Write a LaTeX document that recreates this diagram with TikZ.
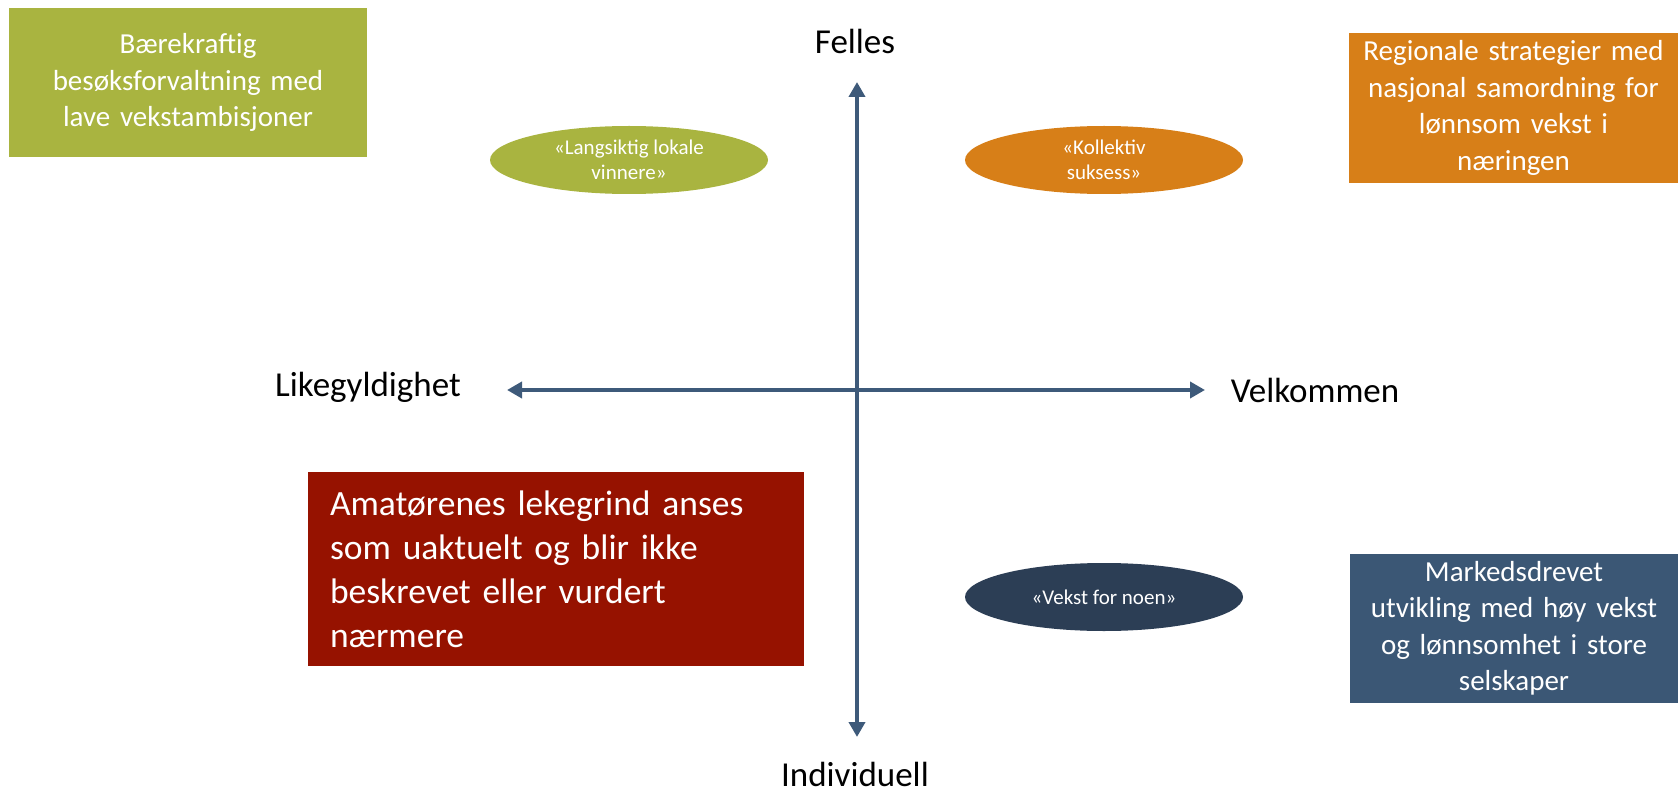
\documentclass[tikz,border=0pt]{standalone}
\usepackage{fontspec}
\setmainfont{Carlito}
\usetikzlibrary{arrows.meta,shapes.geometric}
\definecolor{olivegreen}{RGB}{169,180,64}
\definecolor{amber}{RGB}{215,127,24}
\definecolor{darkred}{RGB}{150,18,0}
\definecolor{navy}{RGB}{44,62,85}
\definecolor{steel}{RGB}{59,87,117}
\definecolor{axiscol}{RGB}{62,90,122}
\tikzset{
  axislabel/.style={font=\fontsize{35}{42}\selectfont, text=black, inner sep=0pt},
  cornerbox/.style={rectangle, fill=#1, text=white, inner sep=0pt, align=center,
    font=\fontsize{29}{36.5}\selectfont},
  oval/.style={ellipse, fill=#1, text=white, inner sep=0pt, align=center,
    minimum width=278pt, minimum height=68pt, font=\fontsize{21}{25}\selectfont},
  axisline/.style={draw=axiscol, line width=4pt,
    {Triangle[width=16pt,length=15pt]}-{Triangle[width=16pt,length=15pt]}}
}
\begin{document}
\begin{tikzpicture}[x=1pt,y=-1pt]
  \useasboundingbox (0,0) rectangle (1678,794);

  % axes
  \coordinate (top) at (857,82);
  \coordinate (bottom) at (857,737);
  \coordinate (left) at (507,390);
  \coordinate (right) at (1205,390);
  \draw[axisline] (bottom) -- (top);
  \draw[axisline] (left) -- (right);

  % axis labels
  \node[axislabel] (felles) at (855,41) {Felles};
  \node[axislabel] (indiv) at (855,774) {Individuell};
  \node[axislabel] (likeg) at (368,387) {Likegyldighet};
  \node[axislabel] (velk) at (1315,390) {Velkommen};

  % corner boxes
  \node[cornerbox=olivegreen, minimum width=358pt, minimum height=149pt, text width=350pt]
    (green) at (188,82.5) {Bærekraftig\\besøksforvaltning med\\lave vekstambisjoner};
  \node[cornerbox=amber, minimum width=329pt, minimum height=150pt, text width=320pt]
    (orange) at (1513.5,108) {Regionale strategier med\\nasjonal samordning for\\lønnsom vekst i\\næringen};
  \node[cornerbox=steel, minimum width=328pt, minimum height=149pt, text width=320pt]
    (blue) at (1514,628.5) {Markedsdrevet\\utvikling med høy vekst\\og lønnsomhet i store\\selskaper};
  \node[rectangle, fill=darkred, text=white, inner sep=0pt, align=left,
        minimum width=496pt, minimum height=194pt, text width=452pt,
        font=\fontsize{35.5}{44}\selectfont]
    (red) at (556,569) {Amatørenes lekegrind anses\\som uaktuelt og blir ikke\\beskrevet eller vurdert\\nærmere};

  % ovals
  \node[oval=olivegreen] (langs) at (629,160) {«Langsiktig lokale\\vinnere»};
  \node[oval=amber] (koll) at (1104,160) {«Kollektiv\\suksess»};
  \node[oval=navy] (vekst) at (1104,597) {«Vekst for noen»};
\end{tikzpicture}
\end{document}
